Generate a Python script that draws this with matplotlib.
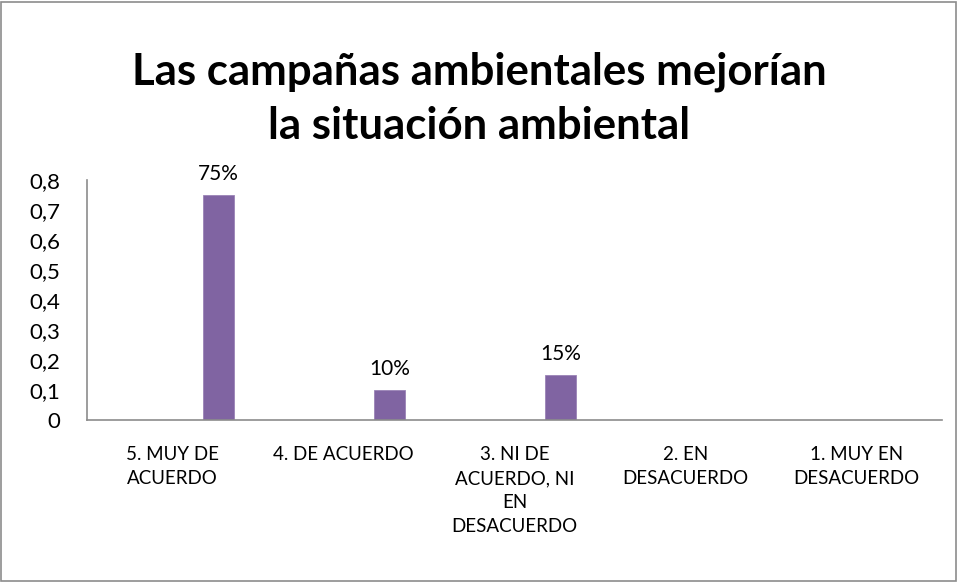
import numpy as np
import matplotlib
matplotlib.use("Agg")
import matplotlib.pyplot as plt
from matplotlib.patches import Rectangle

# data
categorias = ['5. MUY DE\nACUERDO', '4. DE ACUERDO', '3. NI DE\nACUERDO, NI\nEN\nDESACUERDO',
              '2. EN\nDESACUERDO', '1. MUY EN\nDESACUERDO']
valores = [0.75, 0.10, 0.15, 0.0, 0.0]
etiquetas = ['75%', '10%', '15%', '', '']
yticks = [0, 0.1, 0.2, 0.3, 0.4, 0.5, 0.6, 0.7, 0.8]
ytick_labels = ['0', '0,1', '0,2', '0,3', '0,4', '0,5', '0,6', '0,7', '0,8']

plt.rcParams['font.family'] = ['Lato', 'DejaVu Sans']

fig = plt.figure(figsize=(9.59, 5.82), dpi=100)
ax = fig.add_axes([87/959, 1-420/582, (942-87)/959, 240/582])

x = np.arange(len(categorias))
ancho = 0.18
desp = 0.27
barras = ax.bar(x + desp, valores, width=ancho, color='#8064A2', edgecolor='#9A83B6', linewidth=0.6)

for xi, v, t in zip(x, valores, etiquetas):
    if t:
        ax.annotate(t, (xi + desp, v), textcoords='offset points', xytext=(0, 8),
                    ha='center', va='bottom', fontsize=15)

ax.set_xlim(-0.5, len(categorias) - 0.5)
ax.set_ylim(0, 0.8)
ax.set_yticks(yticks)
ax.set_yticklabels(ytick_labels, fontsize=16)
ax.set_xticks(x)
ax.set_xticklabels(categorias, fontsize=13.5, linespacing=1.5, va='top')
ax.tick_params(axis='both', length=0)
ax.tick_params(axis='x', pad=19)
ax.tick_params(axis='y', pad=19)

for s in ['top', 'right']:
    ax.spines[s].set_visible(False)
for s in ['left', 'bottom']:
    ax.spines[s].set_color('#8C8C8C')
    ax.spines[s].set_linewidth(1.2)

fig.text(0.5, 1-99/582, 'Las campañas ambientales mejorían\nla situación ambiental',
         ha='center', va='center', fontsize=31.5, fontweight='bold', linespacing=1.42)

# marco exterior
fig.patches.append(Rectangle((0.001, 0.002), 0.996, 0.995, transform=fig.transFigure,
                             fill=False, edgecolor='#8C8C8C', linewidth=1.2))

plt.savefig('out.png', dpi=100)
